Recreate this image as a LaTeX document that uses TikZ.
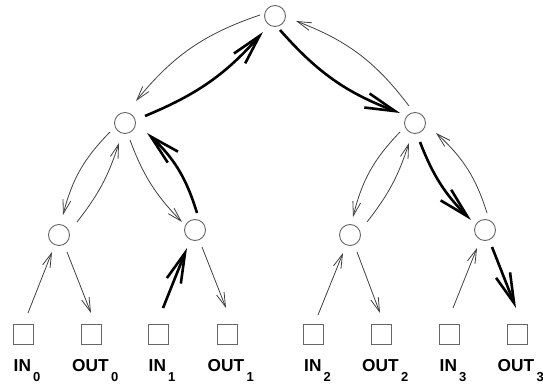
\documentclass[tikz,border=0pt]{standalone}
\usepackage{fontspec}
\newfontfamily\labfont{Liberation Sans}
\usetikzlibrary{arrows.meta,calc}
\newcommand\labsub[1]{\raisebox{-10.5pt}{\fontsize{13}{15}\selectfont #1}}
\begin{document}
\begin{tikzpicture}[x=1pt,y=1pt,
  inner/.style={circle,draw=black!60,line width=0.9pt,minimum size=21pt,inner sep=0pt},
  leaf/.style={rectangle,draw=black!60,line width=0.9pt,minimum size=20pt,inner sep=0pt},
  lab/.style={font=\labfont\bfseries\fontsize{17.3}{20}\selectfont,anchor=base west,inner sep=0pt},
  thinarr/.style={draw=black!75,line width=0.8pt,-{Straight Barb[length=14pt,width=8pt]}},
  thickarr/.style={draw=black,line width=2.6pt,-{Straight Barb[length=30pt,width=15pt]}}
]
\useasboundingbox (0,0) rectangle (543,385);
% tree nodes
\node[inner] (R) at (275,369) {};
\node[inner] (A) at (125,262) {};
\node[inner] (B) at (415,262) {};
\node[inner] (C) at (59,150) {};
\node[inner] (D) at (195,155) {};
\node[inner] (E) at (350,150) {};
\node[inner] (F) at (485,155) {};
% leaves
\node[leaf] (s0) at (23,51) {};
\node[leaf] (s1) at (91,51) {};
\node[leaf] (s2) at (158,51) {};
\node[leaf] (s3) at (227,51) {};
\node[leaf] (s4) at (313,51) {};
\node[leaf] (s5) at (381,51) {};
\node[leaf] (s6) at (449,51) {};
\node[leaf] (s7) at (517,51) {};
% labels
\node[lab] (l0) at (13.5,13.5) {IN\kern2pt\labsub{0}};
\node[lab] (l1) at (72,13.5) {OUT\kern2.5pt\labsub{0}};
\node[lab] (l2) at (148.5,13.5) {IN\kern2pt\labsub{1}};
\node[lab] (l3) at (207.5,13.5) {OUT\kern2.5pt\labsub{1}};
\node[lab] (l4) at (304,13.5) {IN\kern2pt\labsub{2}};
\node[lab] (l5) at (362,13.5) {OUT\kern2.5pt\labsub{2}};
\node[lab] (l6) at (439.5,13.5) {IN\kern2pt\labsub{3}};
\node[lab] (l7) at (497.5,13.5) {OUT\kern2.5pt\labsub{3}};
% root level
\draw[thinarr] ($(R)+(-15,1)$) to[bend right=16] ($(A)+(11,22)$);
\draw[thickarr] ($(A)+(20,7)$) to[bend right=13] ($(R)+(-12,-16)$);
\draw[thickarr] ($(R)+(5,-14)$) to[bend right=14] ($(B)+(-15,10)$);
\draw[thinarr] ($(B)+(-6,17)$) to[bend right=16] ($(R)+(21,-5)$);
% second level
\draw[thinarr] ($(A)+(-15,-9)$) to[bend right=15] ($(C)+(4,20)$);
\draw[thinarr] ($(C)+(18,13)$) to[bend right=10] ($(A)+(-6,-20)$);
\draw[thinarr] ($(A)+(5,-17)$) to[bend right=12] ($(D)+(-13,8)$);
\draw[thickarr] ($(D)+(2,17)$) to[bend right=15] ($(A)+(22,-10)$);
\draw[thinarr] ($(B)+(-15,-9)$) to[bend right=15] ($(E)+(3,18)$);
\draw[thinarr] ($(E)+(17,13)$) to[bend right=10] ($(B)+(-6,-20)$);
\draw[thickarr] ($(B)+(5,-19)$) to[bend right=12] ($(F)+(-14,10)$);
\draw[thinarr] ($(F)+(2,17)$) to[bend right=15] ($(B)+(21,-10)$);
% leaf level
\draw[thinarr] ($(s0)+(5,21)$) -- ($(C)+(-7,-17)$);
\draw[thinarr] ($(C)+(8,-17)$) -- ($(s1)+(0,21)$);
\draw[thickarr] ($(s2)+(5,26)$) -- ($(D)+(-8,-18)$);
\draw[thinarr] ($(D)+(7,-17)$) -- ($(s3)+(-1,26)$);
\draw[thinarr] ($(s4)+(5,19)$) -- ($(E)+(-7,-18)$);
\draw[thinarr] ($(E)+(7,-17)$) -- ($(s5)+(-1,21)$);
\draw[thinarr] ($(s6)+(4,26)$) -- ($(F)+(-8,-18)$);
\draw[thickarr] ($(F)+(7,-17)$) -- ($(s7)+(-1,26)$);
\end{tikzpicture}
\end{document}
